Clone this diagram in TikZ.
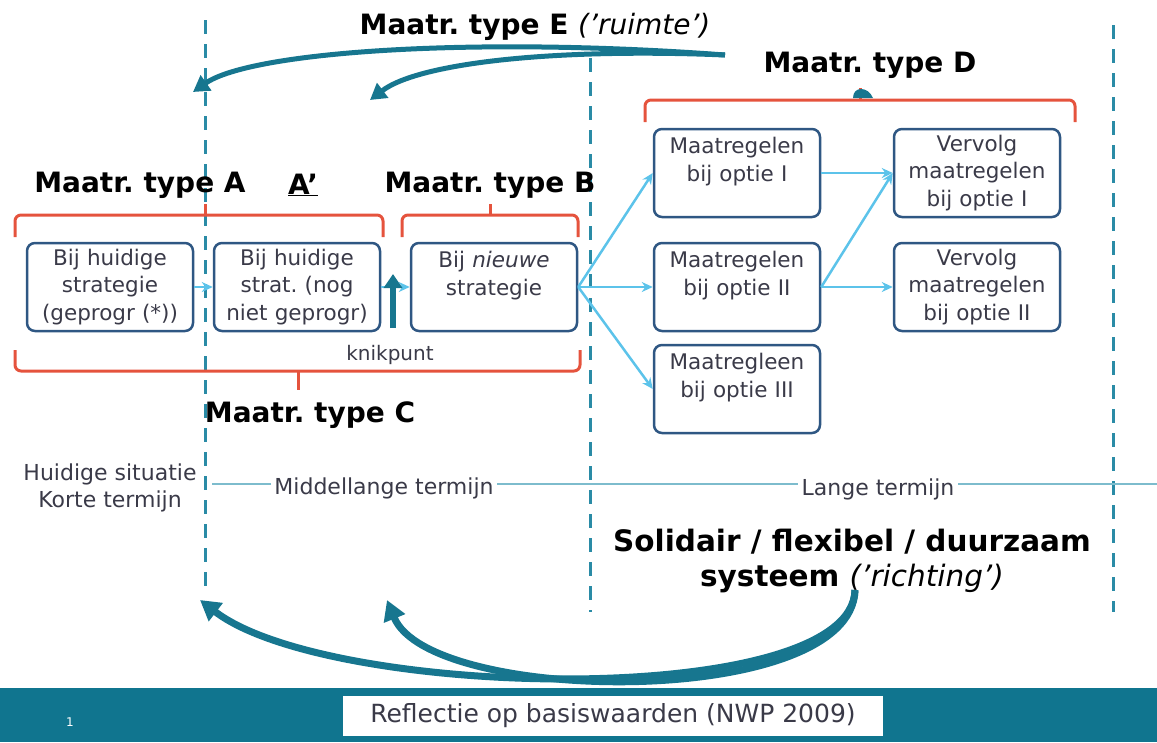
\documentclass[tikz,border=0pt]{standalone}
\usepackage{fontspec}
\setmainfont{DejaVu Sans}
\usetikzlibrary{arrows.meta}
\usepackage{xcolor}
\definecolor{tealdark}{HTML}{17768F}
\definecolor{dashteal}{HTML}{2A8BA6}
\definecolor{bracered}{HTML}{E5533D}
\definecolor{boxblue}{HTML}{2F5783}
\definecolor{boxtext}{HTML}{3A3A48}
\definecolor{flowblue}{HTML}{5CC3EA}
\definecolor{lineteal}{HTML}{7DBCCD}
\definecolor{barteal}{HTML}{10758F}
\frenchspacing

\begin{document}
\begin{tikzpicture}[x=1pt,y=-1pt,>=Stealth,thick]
\tikzstyle{box}=[draw=boxblue,line width=2.5pt,rounded corners=8pt,fill=white,minimum width=166pt,minimum height=88pt,text width=162pt,inner sep=2pt,align=center,font=\fontsize{21.5}{27.5}\selectfont,text=boxtext]
\tikzstyle{head}=[font=\fontsize{28}{35}\selectfont\bfseries,align=center]
\tikzstyle{small}=[font=\fontsize{22}{27}\selectfont,text=boxtext,align=center]
\tikzstyle{flow}=[-{Stealth[length=11pt,width=10pt]},draw=flowblue,line width=2.5pt]
\tikzstyle{bigarrow}=[-{Triangle[length=20pt,width=22pt]},draw=tealdark,line width=7pt]
\tikzstyle{phase}=[draw=dashteal,line width=3pt,dash pattern=on 14pt off 10pt]
\tikzstyle{brace}=[draw=bracered,line width=3pt,rounded corners=6pt]
\useasboundingbox (0,0) rectangle (1157,742);
% phase borders
\draw[phase](205,20)--(205,595);
\draw[phase](590,58)--(590,612);
\draw[phase](1113,25)--(1113,612);
% braces
\draw[brace](15,237)--(15,215)--(383,215)--(383,237);
\draw[brace](205,215)--(205,204);
\draw[brace](402,237)--(402,215)--(578,215)--(578,237);
\draw[brace](490,215)--(490,204);
\draw[brace](645,122)--(645,100)--(1075,100)--(1075,122);
\draw[brace](860,100)--(860,88);
\draw[brace](15,350)--(15,371)--(580,371)--(580,350);
\draw[brace](298,371)--(298,390);
\fill[tealdark](853,98)..controls(853,86)and(868,86)..(873,98)--cycle;
% labels
\node(typeE)at(535,27)[head]{Maatr. type E \textit{\mdseries('ruimte')}};
\node(typeD)at(870,65)[head]{Maatr. type D};
\node(typeA)at(140,185)[head]{Maatr. type A};
\node(typeA2)at(303,185)[head]{\underline{A’}};
\node(typeB)at(490,185)[head]{Maatr. type B};
\node(typeC)at(310,415)[head]{Maatr. type C};
% boxes
\node(cur)at(110,287)[box]{Bij huidige\\strategie\\(geprogr (*))};
\node(curnp)at(297,287)[box]{Bij huidige\\strat. (nog\\niet geprogr)};
\node(new)at(494,287)[box]{Bij \textit{nieuwe}\\strategie\\~};
\node(opt1)at(737,173)[box]{Maatregelen\\bij optie I\\~};
\node(opt2)at(737,287)[box]{Maatregelen\\bij optie II\\~};
\node(opt3)at(737,389)[box]{Maatregleen\\bij optie III\\~};
\node(fol1)at(977,173)[box]{Vervolg\\maatregelen\\bij optie I};
\node(fol2)at(977,287)[box]{Vervolg\\maatregelen\\bij optie II};
\draw[flow](cur)--(curnp);
\draw[flow](curnp)--(new);
\draw[flow](new.east)--(opt1.west);
\draw[flow](new.east)--(opt2.west);
\draw[flow](new.east)--(opt3.west);
\draw[flow](opt1.east)--(fol1.west);
\draw[flow](opt2.east)--(fol1.west);
\draw[flow](opt2.east)--(fol2.west);
% knikpunt
\coordinate(knik-low)at(393,328);
\coordinate(knik-top)at(393,274);
\draw[-{Triangle[length=14pt,width=18pt]},draw=tealdark,line width=6pt](knik-low)--(knik-top);
\node(knik)at(390,355)[small,font=\fontsize{20}{24}\selectfont]{knikpunt};
% time axis
\coordinate(tl-start)at(212,484);
\coordinate(tl-end)at(1157,484);
\draw[lineteal,line width=2pt](tl-start)--(tl-end);
\node(now)at(110,488)[small]{Huidige situatie\\Korte termijn};
\node(mid)at(384,488)[small,fill=white]{Middellange termijn};
\node(long)at(878,489)[small,fill=white]{Lange termijn};
\node(sys)at(852,561)[head,font=\fontsize{29.5}{35}\selectfont\bfseries]{Solidair / flexibel / duurzaam\\systeem \textit{\mdseries('richting')}};
% feedback arrows
\coordinate(e-src)at(725,55);
\coordinate(e-left)at(193,92);
\coordinate(e-mid)at(370,100);
\draw[bigarrow,line width=5pt,-{Triangle[length=16pt,width=18pt]}](e-src)..controls(470,36)and(250,52)..(e-left);
\draw[bigarrow,line width=5pt,-{Triangle[length=16pt,width=18pt]}](e-src)..controls(560,48)and(420,62)..(e-mid);
\coordinate(s-src)at(855,590);
\coordinate(s-left)at(200,600);
\coordinate(s-mid)at(387,600);
\draw[bigarrow](s-src)..controls(852,710)and(330,700)..(s-left);
\draw[bigarrow](s-src)..controls(852,710)and(430,705)..(s-mid);
% footer
\fill[barteal](0,688)rectangle(1157,742);
\node(foot)at(613,716)[fill=white,minimum width=540pt,minimum height=40pt,font=\fontsize{25}{28}\selectfont,text=boxtext]{Reflectie op basiswaarden (NWP 2009)};
\node(pagenr)at(70,722)[text=white,font=\fontsize{12}{14}\selectfont]{1};
\end{tikzpicture}
\end{document}
